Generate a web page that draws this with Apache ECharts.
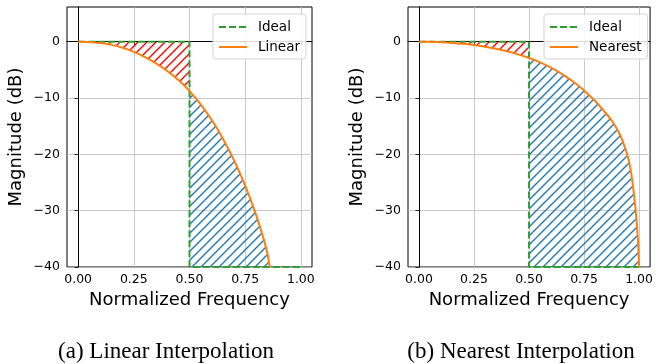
<!DOCTYPE html>
<html>
<head>
<meta charset="utf-8">
<script src="https://cdn.jsdelivr.net/npm/echarts@6/dist/echarts.min.js"></script>
<style>
  html, body { margin: 0; padding: 0; background: #fff; }
  #chart { width: 656px; height: 364px; }
</style>
</head>
<body>
<div id="chart"></div>
<script>
// values (dB)
const linX = [0, 0.05, 0.1, 0.15, 0.2, 0.25, 0.3, 0.35, 0.4, 0.45, 0.5, 0.55, 0.6, 0.65, 0.7, 0.75, 0.8, 0.83, 0.85, 0.86];
const linDb = [0, -0.05, -0.23, -0.57, -1.09, -1.81, -2.73, -3.85, -5.2, -6.82, -8.77, -11.12, -13.92, -17.22, -21.07, -25.57, -30.87, -34.65, -37.6, -40];
const nearX = [0, 0.05, 0.1, 0.15, 0.2, 0.25, 0.3, 0.35, 0.4, 0.45, 0.5, 0.55, 0.6, 0.65, 0.7, 0.75, 0.8, 0.85, 0.875, 0.9, 0.925, 0.95, 0.96, 0.97, 0.985, 0.995, 1.0];
const nearDb = [0, -0.03, -0.1, -0.22, -0.39, -0.6, -0.9, -1.27, -1.72, -2.26, -2.91, -3.69, -4.63, -5.75, -7.08, -8.66, -10.54, -12.75, -14.0, -15.55, -17.6, -20.55, -22.4, -25.0, -30.2, -35.5, -40];
const idealX = [0, 0.5, 0.5, 1.0];
const idealDb = [0, 0, -40, -40];
const xTicks = [0, 0.25, 0.5, 0.75, 1.0];
const yTicks = [-40, -30, -20, -10, 0];
const cutoff = 0.5;

const GREEN = '#2ca02c', ORANGE = '#ff7f0e', BLUE = '#1f77b4', RED = '#ff0000';
const FONT = 'DejaVu Sans';

// "/" hatch tile
function hatch(color) {
  const s = 9;
  const c = document.createElement('canvas');
  c.width = s; c.height = s;
  const ctx = c.getContext('2d');
  ctx.strokeStyle = color;
  ctx.lineWidth = 1.4;
  ctx.beginPath();
  ctx.moveTo(0, s); ctx.lineTo(s, 0);
  ctx.moveTo(-s / 4, s / 4); ctx.lineTo(s / 4, -s / 4);
  ctx.moveTo(s * 3 / 4, s * 5 / 4); ctx.lineTo(s * 5 / 4, s * 3 / 4);
  ctx.stroke();
  return { image: c, repeat: 'repeat' };
}

const pair = (xs, ys) => xs.map((x, i) => [x, ys[i]]);
const minus = v => (v < 0 ? '\u2212' + Math.abs(v) : String(v));

function panel(i, name, xs, ys) {
  const pts = pair(xs, ys);
  const pass = pts.filter(p => p[0] <= cutoff);
  const stop = pts.filter(p => p[0] >= cutoff);
  const hidden = { opacity: 0, width: 0 };
  const common = { type: 'line', xAxisIndex: i, yAxisIndex: i, showSymbol: false, symbol: 'none', silent: true, smooth: 0.3 };
  return [
    // between curve and 0 dB (auto origin = 0)
    Object.assign({}, common, { name: 'loss' + i, data: pass, lineStyle: hidden,
      areaStyle: { color: hatch(RED), opacity: 1 }, z: 1 }),
    // between curve and -40 dB
    Object.assign({}, common, { name: 'leak' + i, data: stop, lineStyle: hidden,
      areaStyle: { color: hatch(BLUE), opacity: 1, origin: 'start' }, z: 1 }),
    Object.assign({}, common, { name: 'Ideal', data: pair(idealX, idealDb), smooth: false,
      lineStyle: { color: GREEN, width: 2, type: [7, 3] }, itemStyle: { color: GREEN }, z: 2 }),
    Object.assign({}, common, { name: name, data: pts,
      lineStyle: { color: ORANGE, width: 2 }, itemStyle: { color: ORANGE }, z: 3 })
  ];
}

function xAxis(i) {
  return {
    type: 'value', gridIndex: i, min: -0.05, max: 1.05,
    name: 'Normalized Frequency', nameLocation: 'middle', nameGap: 24,
    nameTextStyle: { fontFamily: FONT, fontSize: 18, color: '#000' },
    axisLine: { lineStyle: { color: '#000', width: 1 } },
    axisTick: { show: true, length: 3.5, lineStyle: { color: '#000', width: 0.8 }, customValues: xTicks },
    axisLabel: { fontFamily: FONT, fontSize: 12.5, color: '#000', margin: 6, customValues: xTicks, formatter: v => v.toFixed(2) },
    splitLine: { show: true, lineStyle: { color: '#bdbdbd', width: 0.8 } }
  };
}

function yAxis(i) {
  return {
    type: 'value', gridIndex: i, min: -40, max: 6.15,
    name: 'Magnitude (dB)', nameLocation: 'middle', nameGap: 42, nameRotate: 90,
    nameTextStyle: { fontFamily: FONT, fontSize: 18, color: '#000' },
    axisLine: { show: true, lineStyle: { color: '#000', width: 1 } },
    axisTick: { show: true, length: 3.5, lineStyle: { color: '#000', width: 0.8 }, customValues: yTicks },
    axisLabel: { fontFamily: FONT, fontSize: 12.5, color: '#000', margin: 7, customValues: yTicks, formatter: minus },
    splitLine: { show: true, lineStyle: { color: '#bdbdbd', width: 0.8 } }
  };
}

function legend(left, name) {
  return {
    data: ['Ideal', name], left: left, top: 14, orient: 'vertical',
    itemWidth: 28, itemHeight: 14, itemGap: 6, padding: [6, 6, 5, 5],
    backgroundColor: 'rgba(255,255,255,0.85)', borderColor: '#d4d4d4', borderWidth: 1, borderRadius: 3,
    itemStyle: { opacity: 0 },
    textStyle: { fontFamily: FONT, fontSize: 13.5, color: '#000', padding: [0, 0, 0, 6] },
    selectedMode: false
  };
}

const chart = echarts.init(document.getElementById('chart'));
chart.setOption({
  animation: false,
  backgroundColor: '#fff',
  title: [
    { text: '(a) Linear Interpolation', left: 161, top: 335, textAlign: 'center',
      textStyle: { fontFamily: 'Liberation Serif', fontSize: 23, fontWeight: 'normal', color: '#000' } },
    { text: '(b) Nearest Interpolation', left: 516, top: 335, textAlign: 'center',
      textStyle: { fontFamily: 'Liberation Serif', fontSize: 23, fontWeight: 'normal', color: '#000' } }
  ],
  legend: [legend(213, 'Linear'), legend(544, 'Nearest')],
  grid: [
    { left: 67, top: 7, width: 245, height: 260, show: true, borderColor: '#000', borderWidth: 1, backgroundColor: 'transparent' },
    { left: 408, top: 7, width: 245, height: 260, show: true, borderColor: '#000', borderWidth: 1, backgroundColor: 'transparent' }
  ],
  xAxis: [xAxis(0), xAxis(1)],
  yAxis: [yAxis(0), yAxis(1)],
  series: panel(0, 'Linear', linX, linDb).concat(panel(1, 'Nearest', nearX, nearDb))
});
</script>
</body>
</html>
